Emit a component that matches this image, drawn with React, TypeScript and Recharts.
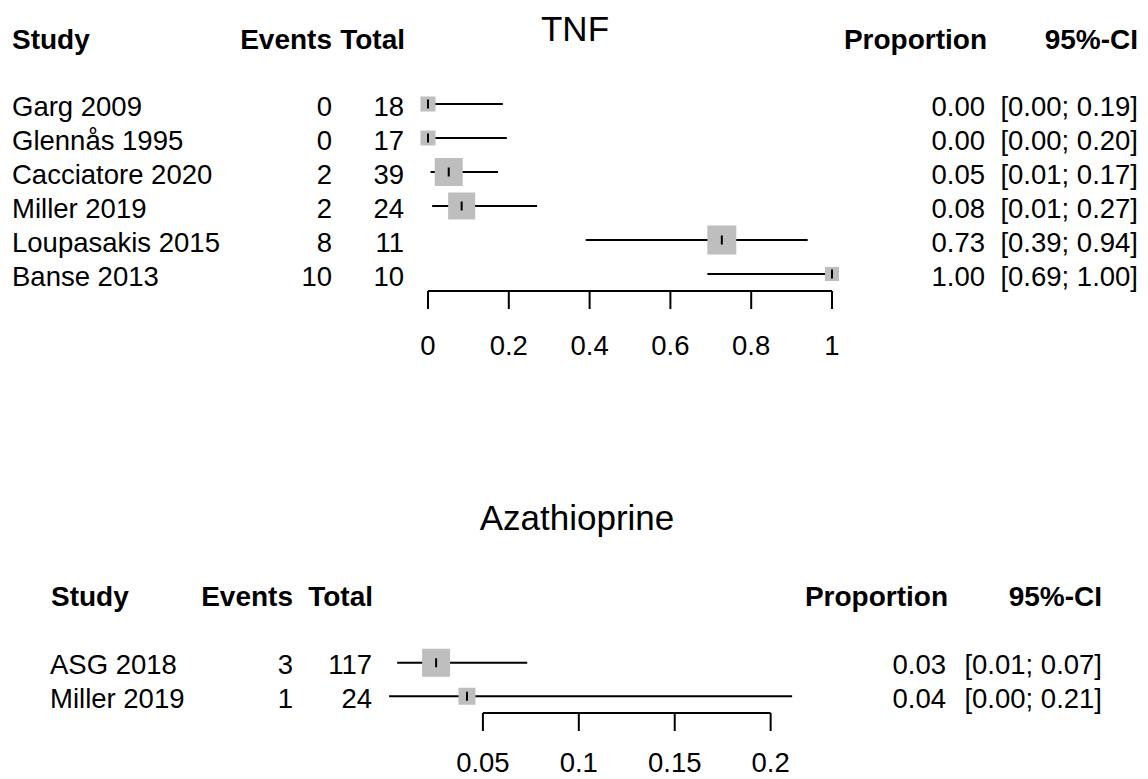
import { ScatterChart, Scatter, XAxis, YAxis, ErrorBar, ReferenceLine } from 'recharts';

// TNF panel
const tnfStudies = ['Garg 2009', 'Glennås 1995', 'Cacciatore 2020', 'Miller 2019', 'Loupasakis 2015', 'Banse 2013'];
const tnfEvents = [0, 0, 2, 2, 8, 10];
const tnfTotal = [18, 17, 39, 24, 11, 10];
const tnfProp = [0, 0, 0.0513, 0.0833, 0.7273, 1.0];
const tnfLower = [0, 0, 0.0063, 0.0103, 0.3903, 0.6915];
const tnfUpper = [0.1853, 0.1951, 0.1732, 0.27, 0.9398, 1.0];
const tnfWeight = [7.5, 7.5, 26.1, 24.3, 28.0, 6.5];
const tnfTicks = [0, 0.2, 0.4, 0.6, 0.8, 1];

// Azathioprine panel
const azaStudies = ['ASG 2018', 'Miller 2019'];
const azaEvents = [3, 1];
const azaTotal = [117, 24];
const azaProp = [0.0256, 0.0417];
const azaLower = [0.0053, 0.0011];
const azaUpper = [0.0731, 0.2112];
const azaWeight = [73.1, 26.9];
const azaTicks = [0.05, 0.1, 0.15, 0.2];

const FONT = '"Liberation Sans", Arial, Helvetica, sans-serif';
const FS = 27.5;

const buildRows = (prop: number[], lo: number[], hi: number[], w: number[]) =>
  prop.map((p, i) => ({ x: p, y: i + 1, err: [p - lo[i], hi[i] - p], w: w[i] }));

const Label = ({ x, y, children, align = 'left', bold = false, size = FS }: any) => {
  const shift = align === 'right' ? '-100%' : align === 'center' ? '-50%' : '0';
  return (
    <div
      style={{
        position: 'absolute',
        left: x,
        top: y - size / 2,
        fontSize: size,
        lineHeight: 1,
        fontWeight: bold ? 'bold' : 'normal',
        transform: `translateX(${shift})`,
        whiteSpace: 'nowrap',
      }}
    >
      {children}
    </div>
  );
};

const Forest = ({ left, top, width, plotHeight, axisH, tickMargin, domain, ticks, rows, boxScale }: any) => {
  const n = rows.length;
  return (
    <div style={{ position: 'absolute', left, top }}>
      <ScatterChart
        width={width}
        height={10 + plotHeight + axisH}
        margin={{ top: 10, right: 30, bottom: 0, left: 30 }}
      >
        <XAxis
          type="number"
          dataKey="x"
          domain={domain}
          ticks={ticks}
          interval={0}
          axisLine={false}
          tickLine={{ stroke: '#000', strokeWidth: 2 }}
          tickSize={18}
          tickMargin={tickMargin}
          height={axisH}
          tick={{ fill: '#000', fontSize: FS, fontFamily: FONT }}
        />
        <YAxis type="number" dataKey="y" domain={[0.5, n + 0.5]} reversed hide width={0} />
        <ReferenceLine
          segment={[
            { x: ticks[0], y: n + 0.5 },
            { x: ticks[ticks.length - 1], y: n + 0.5 },
          ]}
          stroke="#000"
          strokeWidth={2}
          ifOverflow="visible"
        />
        <Scatter
          data={rows}
          isAnimationActive={false}
          shape={(p: any) => {
            const s = boxScale * Math.sqrt(p.payload.w);
            return <rect x={p.cx - s / 2} y={p.cy - s / 2} width={s} height={s} fill="#bebebe" />;
          }}
        />
        <Scatter
          data={rows}
          isAnimationActive={false}
          shape={(p: any) => (
            <line x1={p.cx} x2={p.cx} y1={p.cy - 4.5} y2={p.cy + 4.5} stroke="#000" strokeWidth={2} />
          )}
        >
          <ErrorBar dataKey="err" direction="x" width={0} stroke="#000" strokeWidth={2} />
        </Scatter>
      </ScatterChart>
    </div>
  );
};

export default function App() {
  const tnfRows = buildRows(tnfProp, tnfLower, tnfUpper, tnfWeight);
  const azaRows = buildRows(azaProp, azaLower, azaUpper, azaWeight);
  const ci = (lo: number, hi: number) => `[${lo.toFixed(2)}; ${hi.toFixed(2)}]`;

  return (
    <div
      style={{
        position: 'absolute',
        left: 0,
        top: 0,
        width: 1148,
        height: 779,
        overflow: 'hidden',
        background: '#fff',
        color: '#000',
        fontFamily: FONT,
      }}
    >
      {/* TNF */}
      <Label x={575} y={28} align="center" size={35}>TNF</Label>
      <Label x={12} y={40} bold size={28}>Study</Label>
      <Label x={332} y={40} bold size={28} align="right">Events</Label>
      <Label x={405} y={40} bold size={28} align="right">Total</Label>
      <Label x={987} y={40} bold size={28} align="right">Proportion</Label>
      <Label x={1138} y={40} bold size={28} align="right">95%-CI</Label>
      {tnfStudies.map((s, i) => {
        const y = 107 + i * 34;
        return (
          <div key={s}>
            <Label x={12} y={y}>{s}</Label>
            <Label x={332} y={y} align="right">{tnfEvents[i]}</Label>
            <Label x={404} y={y} align="right">{tnfTotal[i]}</Label>
            <Label x={985} y={y} align="right">{tnfProp[i].toFixed(2)}</Label>
            <Label x={1138} y={y} align="right">{ci(tnfLower[i], tnfUpper[i])}</Label>
          </div>
        );
      })}
      <Forest
        left={398}
        top={77}
        width={464}
        plotHeight={204}
        axisH={75}
        tickMargin={26}
        domain={[0, 1]}
        ticks={tnfTicks}
        rows={tnfRows}
        boxScale={5.48}
      />

      {/* Azathioprine */}
      <Label x={577} y={517} align="center" size={35}>Azathioprine</Label>
      <Label x={51} y={597} bold size={28}>Study</Label>
      <Label x={293} y={597} bold size={28} align="right">Events</Label>
      <Label x={373} y={597} bold size={28} align="right">Total</Label>
      <Label x={948} y={597} bold size={28} align="right">Proportion</Label>
      <Label x={1102} y={597} bold size={28} align="right">95%-CI</Label>
      {azaStudies.map((s, i) => {
        const y = 665 + i * 34;
        return (
          <div key={s}>
            <Label x={50} y={y}>{s}</Label>
            <Label x={293} y={y} align="right">{azaEvents[i]}</Label>
            <Label x={372} y={y} align="right">{azaTotal[i]}</Label>
            <Label x={946} y={y} align="right">{azaProp[i].toFixed(2)}</Label>
            <Label x={1102} y={y} align="right">{ci(azaLower[i], azaUpper[i])}</Label>
          </div>
        );
      })}
      <Forest
        left={357}
        top={636}
        width={482}
        plotHeight={67}
        axisH={66}
        tickMargin={21}
        domain={[0, 0.22]}
        ticks={azaTicks}
        rows={azaRows}
        boxScale={3.275}
      />
    </div>
  );
}
